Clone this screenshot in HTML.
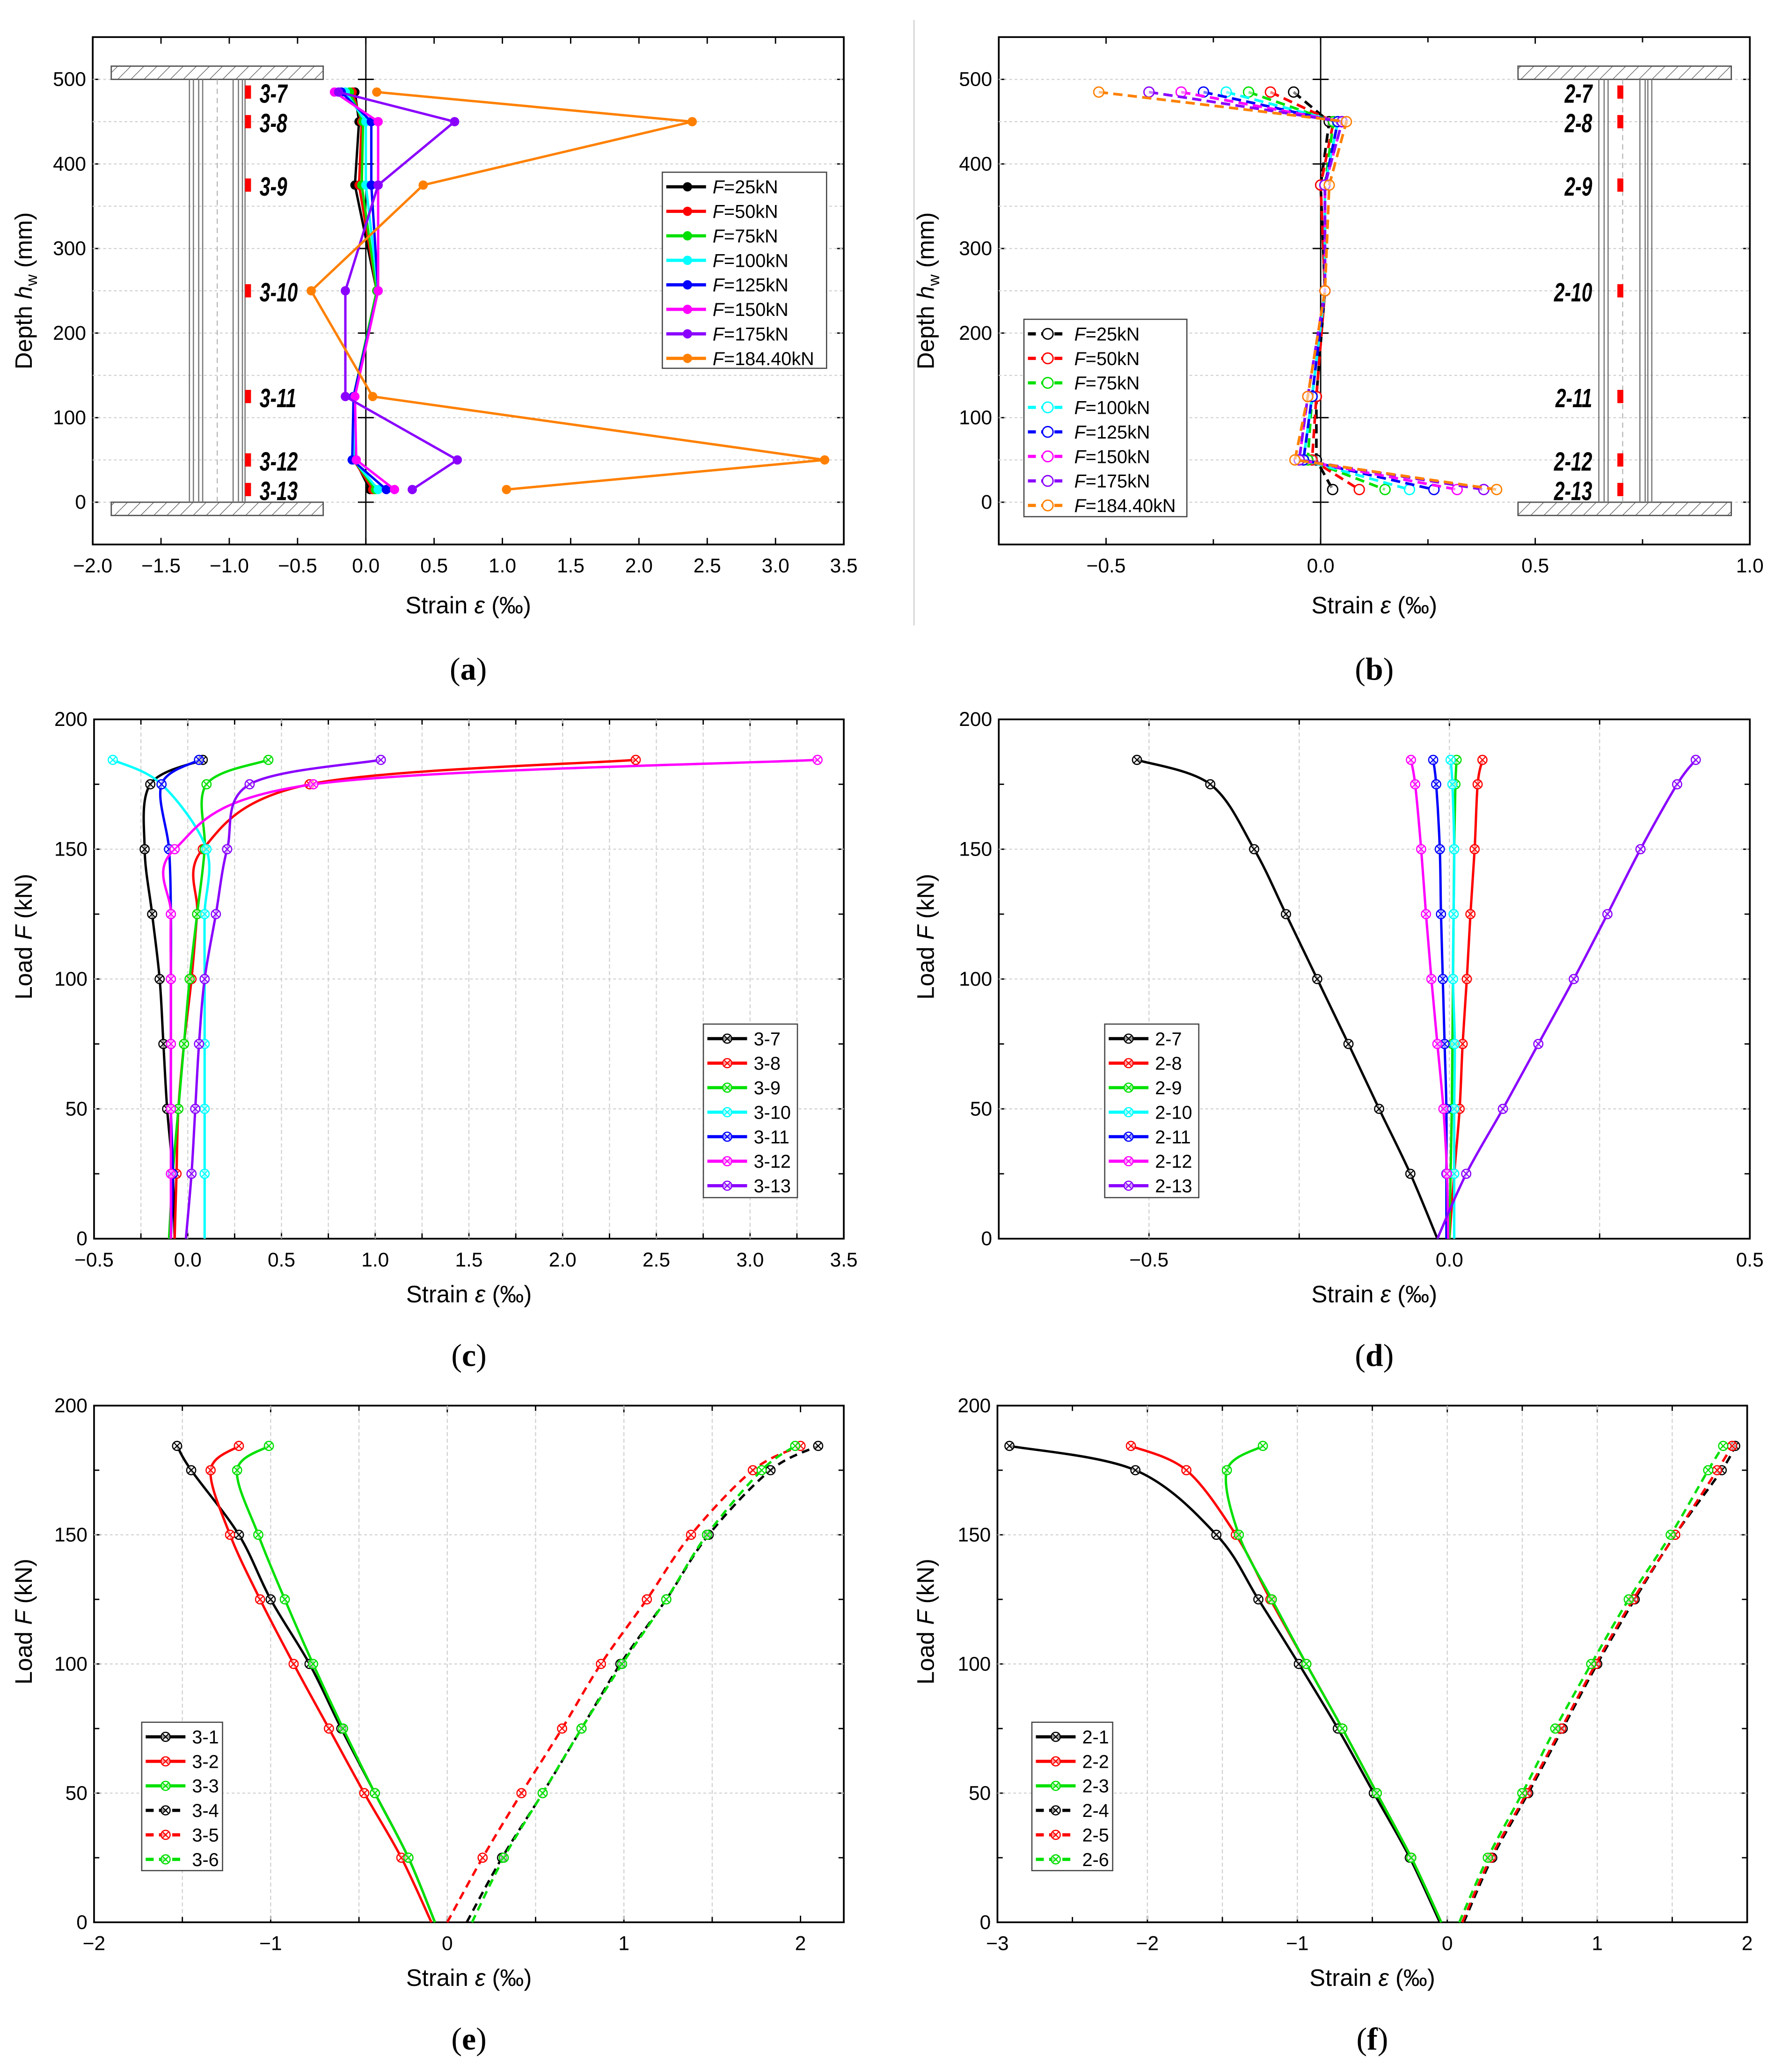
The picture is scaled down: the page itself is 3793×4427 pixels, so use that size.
<!DOCTYPE html>
<html><head><meta charset="utf-8"><title>Strain distributions</title>
<style>
html,body{margin:0;padding:0;background:#fff;}
svg{display:block;}
text{font-family:"Liberation Sans",sans-serif;}
</style></head>
<body>
<svg id="fig" xmlns="http://www.w3.org/2000/svg" width="3793" height="4427" viewBox="0 0 1340 1564" preserveAspectRatio="none">
<defs>
<pattern id="hatch" width="7" height="7" patternUnits="userSpaceOnUse" patternTransform="rotate(45)">
<line x1="0" y1="0" x2="0" y2="7" stroke="#444" stroke-width="0.8"/>
</pattern>
</defs>
<line x1="690" y1="15" x2="690" y2="472" stroke="#ccc" stroke-width="0.8"/>
</svg>
<script>
// ===== data =====
const depths = [485,450,375,250,125,50,15];
const loadLabelsAB = ['25','50','75','100','125','150','175','184.40'];
const aF25 = [-0.08,-0.05,-0.08,0.08,-0.09,-0.08,0.03];
const aF50 = [-0.10,-0.03,-0.05,0.08,-0.09,-0.09,0.05];
const aF75 = [-0.12,-0.02,-0.03,0.08,-0.09,-0.09,0.07];
const aF100 = [-0.15,0.00,0.00,0.09,-0.09,-0.09,0.09];
const aF125 = [-0.18,0.04,0.04,0.09,-0.09,-0.10,0.15];
const aF150 = [-0.23,0.09,0.09,0.09,-0.08,-0.07,0.21];
const aF175 = [-0.20,0.65,0.09,-0.15,-0.15,0.67,0.34];
const aF184 = [0.08,2.39,0.42,-0.40,0.05,3.36,1.03];
const bF25 = [-0.063,0.02,0.0,0.01,-0.01,-0.01,0.028];
const bF50 = [-0.117,0.03,0.0,0.01,-0.01,-0.02,0.09];
const bF75 = [-0.168,0.03,0.01,0.01,-0.02,-0.03,0.15];
const bF100 = [-0.22,0.04,0.01,0.01,-0.02,-0.04,0.207];
const bF125 = [-0.273,0.04,0.01,0.01,-0.02,-0.04,0.264];
const bF150 = [-0.325,0.05,0.01,0.01,-0.03,-0.05,0.318];
const bF175 = [-0.40,0.05,0.01,0.01,-0.03,-0.05,0.38];
const bF184 = [-0.517,0.06,0.02,0.01,-0.03,-0.06,0.41];
const loads = [0,25,50,75,100,125,150,175,184.4];
const c37 = [-0.07,-0.08,-0.11,-0.13,-0.15,-0.19,-0.23,-0.20,0.08];
const c38 = [-0.07,-0.06,-0.05,-0.02,0.02,0.05,0.08,0.65,2.39];
const c39 = [-0.10,-0.08,-0.05,-0.02,0.01,0.05,0.09,0.10,0.43];
const c310 = [0.09,0.09,0.09,0.09,0.09,0.09,0.10,-0.14,-0.40];
const c311 = [-0.09,-0.08,-0.09,-0.09,-0.09,-0.09,-0.10,-0.14,0.06];
const c312 = [-0.09,-0.09,-0.09,-0.09,-0.09,-0.09,-0.07,0.67,3.36];
const c313 = [-0.01,0.02,0.04,0.06,0.09,0.15,0.21,0.33,1.03];
const d27 = [-0.02,-0.065,-0.117,-0.168,-0.22,-0.272,-0.325,-0.398,-0.52];
const d28 = [0.0,0.008,0.017,0.022,0.029,0.035,0.042,0.047,0.055];
const d29 = [0.0,0.002,0.004,0.005,0.006,0.007,0.008,0.010,0.012];
const d210 = [0.008,0.008,0.008,0.009,0.006,0.007,0.008,0.005,0.002];
const d211 = [-0.005,-0.005,-0.005,-0.008,-0.011,-0.014,-0.016,-0.022,-0.027];
const d212 = [-0.002,-0.004,-0.010,-0.020,-0.030,-0.039,-0.047,-0.057,-0.064];
const d213 = [-0.02,0.028,0.089,0.148,0.207,0.263,0.318,0.379,0.41];
const e31 = [-0.07,-0.22,-0.41,-0.60,-0.78,-1.00,-1.18,-1.45,-1.53];
const e32 = [-0.09,-0.26,-0.47,-0.67,-0.87,-1.06,-1.23,-1.34,-1.18];
const e33 = [-0.07,-0.22,-0.41,-0.59,-0.76,-0.92,-1.07,-1.19,-1.01];
const e34 = [0.11,0.31,0.54,0.76,0.98,1.24,1.48,1.83,2.10];
const e35 = [0.00,0.20,0.42,0.65,0.87,1.13,1.38,1.73,2.00];
const e36 = [0.14,0.32,0.54,0.76,0.99,1.24,1.47,1.78,1.97];
const f21 = [-0.05,-0.25,-0.49,-0.73,-0.99,-1.26,-1.54,-2.08,-2.92];
const f22 = [-0.04,-0.24,-0.47,-0.70,-0.94,-1.18,-1.41,-1.74,-2.11];
const f23 = [-0.04,-0.24,-0.47,-0.70,-0.94,-1.17,-1.39,-1.47,-1.23];
const f24 = [0.11,0.30,0.54,0.77,1.00,1.25,1.52,1.83,1.92];
const f25 = [0.10,0.29,0.53,0.76,0.99,1.24,1.52,1.80,1.90];
const f26 = [0.08,0.27,0.50,0.72,0.96,1.21,1.49,1.74,1.84];
const xTicksA = ['-2.0','-1.5','-1.0','-0.5','0.0','0.5','1.0','1.5','2.0','2.5','3.0','3.5'];
const xTicksB = ['-0.5','0.0','0.5','1.0'];
const xTicksC = ['-0.5','0.0','0.5','1.0','1.5','2.0','2.5','3.0','3.5'];
const xTicksD = ['-0.5','0.0','0.5'];
const xTicksE = ['-2','-1','0','1','2'];
const xTicksF = ['-3','-2','-1','0','1','2'];
const yTicksDepth = ['0','100','200','300','400','500'];
const yTicksLoad = ['0','50','100','150','200'];

// ===== helpers =====
const NS='http://www.w3.org/2000/svg';
const svg=document.getElementById('fig');
function mk(tag,attrs,parent){const e=document.createElementNS(NS,tag);for(const k in attrs)e.setAttribute(k,attrs[k]);(parent||svg).appendChild(e);return e;}
function txt(s,attrs,parent){const e=mk('text',attrs,parent);e.textContent=s;return e;}
function axis(x0,x1,xmin,xmax,yb,yt,ymin,ymax){return {sx:v=>x0+(v-xmin)/(xmax-xmin)*(x1-x0),sy:v=>yb-(v-ymin)/(ymax-ymin)*(yb-yt),x0,x1,yb,yt,xmin,xmax,ymin,ymax};}
function smooth(p){let d='M'+p[0][0]+','+p[0][1];for(let i=0;i<p.length-1;i++){const p0=p[i-1]||p[i],p1=p[i],p2=p[i+1],p3=p[i+2]||p2;const c1=[p1[0]+(p2[0]-p0[0])/6,p1[1]+(p2[1]-p0[1])/6],c2=[p2[0]-(p3[0]-p1[0])/6,p2[1]-(p3[1]-p1[1])/6];d+=' C'+c1+' '+c2+' '+p2;}return d;}
function fmt(s){return s.replace('-','\u2212');}

function frame(ax,name,xt,xvals,yt,yvals,xlab,ylabIsDepth,panelLetter,lx){
  const g=mk('g',{});
  
  
  const r=mk('rect',{x:ax.x0,y:ax.yt,width:ax.x1-ax.x0,height:ax.yb-ax.yt,fill:'none',stroke:'#000','stroke-width':1.3},g);
  
  
  xvals.forEach((v,i)=>{const x=ax.sx(v);
    mk('line',{x1:x,x2:x,y1:ax.yb,y2:ax.yb-5,stroke:'#000','stroke-width':1},g);
    mk('line',{x1:x,x2:x,y1:ax.yt,y2:ax.yt+5,stroke:'#000','stroke-width':1},g);
    const t=txt(fmt(xt[i]),{x:x,y:ax.yb+21,'font-size':15,'text-anchor':'middle'},g);
    
    });
  yvals.forEach((v,i)=>{const y=ax.sy(v);
    mk('line',{x1:ax.x0,x2:ax.x0+5,y1:y,y2:y,stroke:'#000','stroke-width':1},g);
    mk('line',{x1:ax.x1,x2:ax.x1-5,y1:y,y2:y,stroke:'#000','stroke-width':1},g);
    const t=txt(yt[i],{x:ax.x0-5,y:y+5,'font-size':15,'text-anchor':'end'},g);
    
    });
  const cx=(ax.x0+ax.x1)/2;
  const xl=txt('',{x:cx,y:ax.yb+(ylabIsDepth?52:48),'font-size':18,'text-anchor':'middle'},g);
  xl.innerHTML='Strain <tspan font-style="italic">ε</tspan> (‰)';
  
  
  const ycy=(ax.yb+ax.yt)/2+(ylabIsDepth?0:-32);
  const yl=txt('',{x:lx,y:ycy,'font-size':18,'text-anchor':'middle',transform:'rotate(-90 '+lx+' '+ycy+')'},g);
  if(ylabIsDepth) yl.innerHTML='Depth <tspan font-style="italic">h</tspan><tspan font-size="12" dy="4">w</tspan><tspan dy="-4"> (mm)</tspan>';
  else yl.innerHTML='Load <tspan font-style="italic">F</tspan> (kN)';
  
  
  const pl=txt('',{x:cx,y:ax.yb+(ylabIsDepth?102:96),'font-size':24,'text-anchor':'middle',style:'font-family:"Liberation Serif",serif'},g);
  pl.innerHTML='(<tspan font-weight="bold">'+panelLetter+'</tspan>)';
  
  
  return g;
}
function hgrid(ax,vals,g){vals.forEach(v=>{const y=ax.sy(v);const l=mk('line',{x1:ax.x0,x2:ax.x1,y1:y,y2:y,stroke:'#d0d0d0','stroke-width':0.8,'stroke-dasharray':'2,2'},g);});}
function vgrid(ax,vals,g){vals.forEach(v=>{const x=ax.sx(v);const l=mk('line',{x1:x,x2:x,y1:ax.yt,y2:ax.yb,stroke:'#d0d0d0','stroke-width':0.8,'stroke-dasharray':'3,2'},g);});}
function xMarker(x,y,c,g){mk('circle',{cx:x,cy:y,r:3.4,fill:'#fff','fill-opacity':0.6,stroke:c,'stroke-width':0.9},g);mk('path',{d:`M${x-2.3},${y-2.3}L${x+2.3},${y+2.3}M${x-2.3},${y+2.3}L${x+2.3},${y-2.3}`,stroke:c,'stroke-width':0.8},g);}

const COL8=['#000000','#ff0000','#00e000','#00ffff','#0000ff','#ff00ff','#8a00ff','#ff8000'];
const COL7=['#000000','#ff0000','#00e000','#00ffff','#0000ff','#ff00ff','#8a00ff'];

// ===== beam drawing =====
function beam(ax,fx0,fx1,webXs,dashX,markX,labels,labelX,anchor,g){
  const yt=ax.sy(500),yb=ax.sy(0);
  [[yt-10,yt],[yb,yb+10]].forEach(([a,b])=>{const f=mk('rect',{x:fx0,y:a,width:fx1-fx0,height:b-a,fill:'url(#hatch)',stroke:'#555','stroke-width':1},g);});
  webXs.forEach(x=>{const l=mk('line',{x1:x,x2:x,y1:yt,y2:yb,stroke:'#777','stroke-width':0.9},g);});
  mk('line',{x1:dashX,x2:dashX,y1:yt,y2:yb,stroke:'#aaa','stroke-width':0.7,'stroke-dasharray':'4,3'},g);
  depths.forEach((d,i)=>{const y=ax.sy(d);
    const m=mk('rect',{x:markX-2,y:y-5,width:4.5,height:10,fill:'#ff0000'},g);
    
    
    const t=txt(labels[i],{x:labelX,y:y+8,'font-size':20,'font-weight':'bold','font-style':'italic','text-anchor':anchor,transform:`translate(${labelX} 0) scale(0.72 1) translate(${-labelX} 0)`},g);
    
    });
}
function zeroLine(ax,g){const x=ax.sx(0);const l=mk('line',{x1:x,x2:x,y1:ax.yt,y2:ax.yb,stroke:'#000','stroke-width':1},g);
  [0,100,200,300,400,500].forEach(v=>{mk('line',{x1:x-6,x2:x+6,y1:ax.sy(v),y2:ax.sy(v),stroke:'#000','stroke-width':1},g);});}

function legend(x,y,w,h,items,cols,step,kind,g,italicF){
  const lg=mk('g',{},g);
  
  
  mk('rect',{x:x,y:y,width:w,height:h,fill:'#fff',stroke:'#444','stroke-width':0.9},lg);
  items.forEach((s,i)=>{const yy=y+11+i*step;const c=cols[i%cols.length];
    const e=mk('g',{},lg);
    
    
    const dashed=kind.dash(i);
    mk('line',{x1:x+3,x2:x+33,y1:yy,y2:yy,stroke:c,'stroke-width':2.4,'stroke-dasharray':dashed?'6,4':'none'},e);
    if(kind.m==='fill')mk('circle',{cx:x+19,cy:yy,r:3.5,fill:c},e);
    else if(kind.m==='open')mk('circle',{cx:x+18,cy:yy,r:4,fill:'#fff',stroke:c,'stroke-width':1},e);
    else xMarker(x+18,yy,c,e);
    const t=txt('',{x:x+38,y:yy+5,'font-size':14},e);
    if(italicF)t.innerHTML='<tspan font-style="italic">F</tspan>='+s+'kN';else t.textContent=s;});
}

// ===== Panel (a) =====
const axA=axis(70,637,-2,3.5,411,28,-50,550);
const gA=frame(axA,'panel-a',xTicksA,[-2,-1.5,-1,-0.5,0,0.5,1,1.5,2,2.5,3,3.5],yTicksDepth,[0,100,200,300,400,500],'',true,'a',24);
hgrid(axA,[0,50,100,150,200,250,300,350,400,450,500],gA);
beam(axA,84,244,[143,146,150,153,176,180,183,185],164,187,['3-7','3-8','3-9','3-10','3-11','3-12','3-13'],196,'start',gA);
zeroLine(axA,gA);
[aF25,aF50,aF75,aF100,aF125,aF150,aF175,aF184].forEach((s,k)=>{
  const g=mk('g',{},gA);
  
  
  const pts=s.map((v,i)=>[axA.sx(v),axA.sy(depths[i])]);
  mk('polyline',{points:pts.join(' '),fill:'none',stroke:COL8[k],'stroke-width':1.8},g);
  pts.forEach(p=>mk('circle',{cx:p[0],cy:p[1],r:3.5,fill:COL8[k]},g));
});
legend(500,130,124,148,loadLabelsAB,COL8,18.5,{m:'fill',dash:()=>false},gA,true);

// ===== Panel (b) =====
const axB=axis(754,1321,-0.75,1.0,411,28,-50,550);
const gB=frame(axB,'panel-b',xTicksB,[-0.5,0,0.5,1.0],yTicksDepth,[0,100,200,300,400,500],'',true,'b',705);
hgrid(axB,[0,50,100,150,200,250,300,350,400,450,500],gB);
beam(axB,1146,1307,[1207,1211,1214,1238,1242,1244,1247],1225,1223,['2-7','2-8','2-9','2-10','2-11','2-12','2-13'],1202,'end',gB);
[-0.25,0.25,0.75].forEach(v=>{mk('line',{x1:axB.sx(v),x2:axB.sx(v),y1:axB.yb,y2:axB.yb-4,stroke:'#000'},gB);mk('line',{x1:axB.sx(v),x2:axB.sx(v),y1:axB.yt,y2:axB.yt+4,stroke:'#000'},gB);});
zeroLine(axB,gB);
[bF25,bF50,bF75,bF100,bF125,bF150,bF175,bF184].forEach((s,k)=>{
  const g=mk('g',{},gB);
  
  
  const pts=s.map((v,i)=>[axB.sx(v),axB.sy(depths[i])]);
  mk('polyline',{points:pts.join(' '),fill:'none',stroke:COL8[k],'stroke-width':2,'stroke-dasharray':'7,4'},g);
  pts.forEach(p=>mk('circle',{cx:p[0],cy:p[1],r:3.8,fill:'#fff','fill-opacity':0.5,stroke:COL8[k],'stroke-width':1},g));
});
legend(773,241,123,149,loadLabelsAB,COL8,18.5,{m:'open',dash:()=>true},gB,true);

// ===== load-strain panels =====
function loadPanel(ax,name,xt,xv,letter,lx,series,names,cols,dashFn,gridX,minorX,leg){
  const g=frame(ax,name,xt,xv,yTicksLoad,[0,50,100,150,200],'',false,letter,lx);
  vgrid(ax,gridX,g);
  hgrid(ax,[50,100,150],g);
  minorX.forEach(v=>{mk('line',{x1:ax.sx(v),x2:ax.sx(v),y1:ax.yb,y2:ax.yb-4,stroke:'#000'},g);mk('line',{x1:ax.sx(v),x2:ax.sx(v),y1:ax.yt,y2:ax.yt+4,stroke:'#000'},g);});
  [25,75,125,175].forEach(v=>{mk('line',{x1:ax.x0,x2:ax.x0+4,y1:ax.sy(v),y2:ax.sy(v),stroke:'#000'},g);mk('line',{x1:ax.x1,x2:ax.x1-4,y1:ax.sy(v),y2:ax.sy(v),stroke:'#000'},g);});
  series.forEach((s,k)=>{
    const sg=mk('g',{},g);
    
    
    const pts=s.map((v,i)=>[ax.sx(v),ax.sy(loads[i])]);
    mk('path',{d:smooth(pts),fill:'none',stroke:cols[k],'stroke-width':1.8,'stroke-dasharray':dashFn(k)?'6,4':'none'},sg);
    pts.slice(1).forEach(p=>xMarker(p[0],p[1],cols[k],sg));
  });
  legend(leg[0],leg[1],leg[2],leg[3],names,cols,leg[4],{m:'x',dash:dashFn},g,false);
}
const axC=axis(71,637,-0.5,3.5,935,543,0,200);
loadPanel(axC,'panel-c',xTicksC,[-0.5,0,0.5,1,1.5,2,2.5,3,3.5],'c',24,[c37,c38,c39,c310,c311,c312,c313],['3-7','3-8','3-9','3-10','3-11','3-12','3-13'],COL7,()=>false,
  [-0.25,0,0.25,0.5,0.75,1,1.25,1.5,1.75,2,2.25,2.5,2.75,3,3.25],[-0.25,0.25,0.75,1.25,1.75,2.25,2.75,3.25],[531,773,71,131,18.5]);
const axD=axis(754,1321,-0.75,0.5,935,543,0,200);
loadPanel(axD,'panel-d',xTicksD,[-0.5,0,0.5],'d',705,[d27,d28,d29,d210,d211,d212,d213],['2-7','2-8','2-9','2-10','2-11','2-12','2-13'],COL7,()=>false,
  [-0.5,-0.25,0,0.25],[-0.25,0.25],[834,773,71,131,18.5]);
const COL6=['#000000','#ff0000','#00e000','#000000','#ff0000','#00e000'];
const axE=axis(71,637,-2,2.245,1451,1061,0,200);
loadPanel(axE,'panel-e',xTicksE,[-2,-1,0,1,2],'e',24,[e31,e32,e33,e34,e35,e36],['3-1','3-2','3-3','3-4','3-5','3-6'],COL6,k=>k>=3,
  [-1.5,-1,-0.5,0,0.5,1,1.5],[-1.5,-0.5,0.5,1.5],[107,1300,61,112,18.5]);
const axF=axis(753,1319,-3,2,1451,1061,0,200);
loadPanel(axF,'panel-f',xTicksF,[-3,-2,-1,0,1,2],'f',705,[f21,f22,f23,f24,f25,f26],['2-1','2-2','2-3','2-4','2-5','2-6'],COL6,k=>k>=3,
  [-2,-1.5,-1,-0.5,0,0.5,1,1.5],[-2.5,-1.5,-0.5,0.5,1.5],[779,1300,61,112,18.5]);
</script>
</body></html>
